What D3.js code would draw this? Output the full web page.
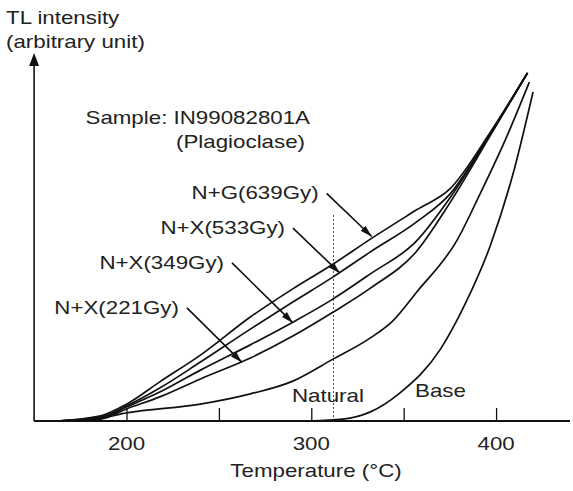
<!DOCTYPE html>
<html><head><meta charset="utf-8">
<script src="https://cdn.jsdelivr.net/npm/d3@7/dist/d3.min.js"></script>
<style>body{margin:0;background:#fff}svg{display:block}text{font-family:"Liberation Sans",Arial,sans-serif;fill:#222}</style>
</head><body><svg id="c" width="573" height="491"></svg>
<script>
// ---- data (temperature in °C, TL intensity in arbitrary units) ----
const irrTemps = [162,186,200,218,240,267,290,311,332,357,375,397,417];
const ng639 = [0,1.4,4.6,10.7,18.0,28.4,36.1,42.6,49.7,57.7,63.4,79.0,95.1];
const nx533 = [0,1.1,4.1,9.0,16.1,25.1,32.5,39.1,46.2,54.4,62.0,78.7,95.1];
const nx349 = [0,0.8,3.8,7.9,13.9,20.8,27.0,33.1,40.2,49.2,60.9,78.4,95.1];
const nx221 = [0,0.5,3.3,6.6,11.5,17.2,23.2,29.5,36.3,46.4,59.6,78.1,95.1];
const naturalTemps = [162,186,200,240,267,290,311,332,344,357,379,391,405,418];
const natural = [0,0.8,2.2,4.6,7.4,10.9,16.7,22.7,27.3,35.2,49.5,61.7,76.8,92.6];
const baseTemps = [299,317,332,348,370,383,397,409,420];
const base = [0,0.5,2.5,7.7,19.7,31.7,48.1,67.2,89.9];
const tickValues = [200,250,300,350,400];
const tickLabels = ["200","","300","","400"];
const seriesNames = ["N+G(639Gy)","N+X(533Gy)","N+X(349Gy)","N+X(221Gy)"];
// arrow start / tip in data units
const arrowStartT = [308.3,290.1,257.1,232.7];
const arrowStartV = [62.2,52.7,43.2,30.9];
const arrowTipT = [332.7,315.5,290.1,262.5];
const arrowTipV = [50.4,40.4,26.8,16.0];
const dashedT = 312, dashedTop = 56.3;

const SX = 1.24, FS = 18;
const svg = d3.select('#c');
const x = d3.scaleLinear().domain([150,440]).range([34.1,570]);
const y = d3.scaleLinear().domain([0,100]).range([421,55]);

const defs = svg.append('defs');
defs.append('marker').attr('id','ah').attr('markerUnits','userSpaceOnUse')
  .attr('markerWidth',13).attr('markerHeight',8).attr('refX',12).attr('refY',4).attr('orient','auto')
  .append('path').attr('d','M0,0.5 L12,4 L0,7.5 z').attr('fill','#111');

function label(px, py, str, anchor, fs){
  svg.append('text').attr('transform',`translate(${px},${py}) scale(${SX},1)`)
    .attr('text-anchor',anchor||'start').attr('font-size',fs||FS).text(str);
}

// axes
const xAxis = d3.axisBottom(x).tickValues(tickValues).tickSize(-13).tickFormat((d,i)=>tickLabels[i]);
const gx = svg.append('g').attr('transform',`translate(0,${y(0)})`).call(xAxis);
gx.select('.domain').attr('stroke','#111').attr('stroke-width',1.8).attr('d',`M${x(150)},0H${x(440)}`);
gx.selectAll('.tick line').attr('stroke','#111').attr('stroke-width',1.3);
gx.selectAll('.tick text').remove();
tickValues.forEach((t,i)=>{ if(tickLabels[i]) label(x(t), 450, tickLabels[i], 'middle'); });

svg.append('line').attr('x1',x(150)).attr('x2',x(150)).attr('y1',y(0)).attr('y2',y(100)+10)
  .attr('stroke','#111').attr('stroke-width',1.6);
svg.append('path').attr('d',`M${x(150)},${y(100)-2} L${x(150)-5},${y(100)+11} L${x(150)+5},${y(100)+11} z`).attr('fill','#111');

// dashed line
svg.append('line').attr('x1',x(dashedT)).attr('x2',x(dashedT)).attr('y1',y(0)).attr('y2',y(dashedTop))
  .attr('stroke','#444').attr('stroke-width',1).attr('stroke-dasharray','2,2');

// curves
const line = d3.line().x(d=>x(d[0])).y(d=>y(d[1])).curve(d3.curveMonotoneX);
const irr = [ng639,nx533,nx349,nx221];
irr.forEach(vals=>{
  svg.append('path').datum(irrTemps.map((t,i)=>[t,vals[i]])).attr('d',line)
    .attr('fill','none').attr('stroke','#111').attr('stroke-width',1.7);
});
svg.append('path').datum(naturalTemps.map((t,i)=>[t,natural[i]])).attr('d',line)
  .attr('fill','none').attr('stroke','#111').attr('stroke-width',1.7);
svg.append('path').datum(baseTemps.map((t,i)=>[t,base[i]])).attr('d',line)
  .attr('fill','none').attr('stroke','#111').attr('stroke-width',1.7);

// arrows + labels
seriesNames.forEach((n,i)=>{
  const sx = x(arrowStartT[i]), sy = y(arrowStartV[i]);
  svg.append('line').attr('x1',sx).attr('y1',sy).attr('x2',x(arrowTipT[i])).attr('y2',y(arrowTipV[i]))
    .attr('stroke','#111').attr('stroke-width',1.6).attr('marker-end','url(#ah)');
  label(sx-8, sy+6, n, 'end');
});

label(292, 402, 'Natural', 'start');
label(415, 397, 'Base', 'start');
label(310, 124, 'Sample: IN99082801A', 'end');
label(305, 148, '(Plagioclase)', 'end');
label(6, 24, 'TL intensity', 'start');
label(6, 48, '(arbitrary unit)', 'start');
label(316, 477, 'Temperature (°C)', 'middle');
</script></body></html>
